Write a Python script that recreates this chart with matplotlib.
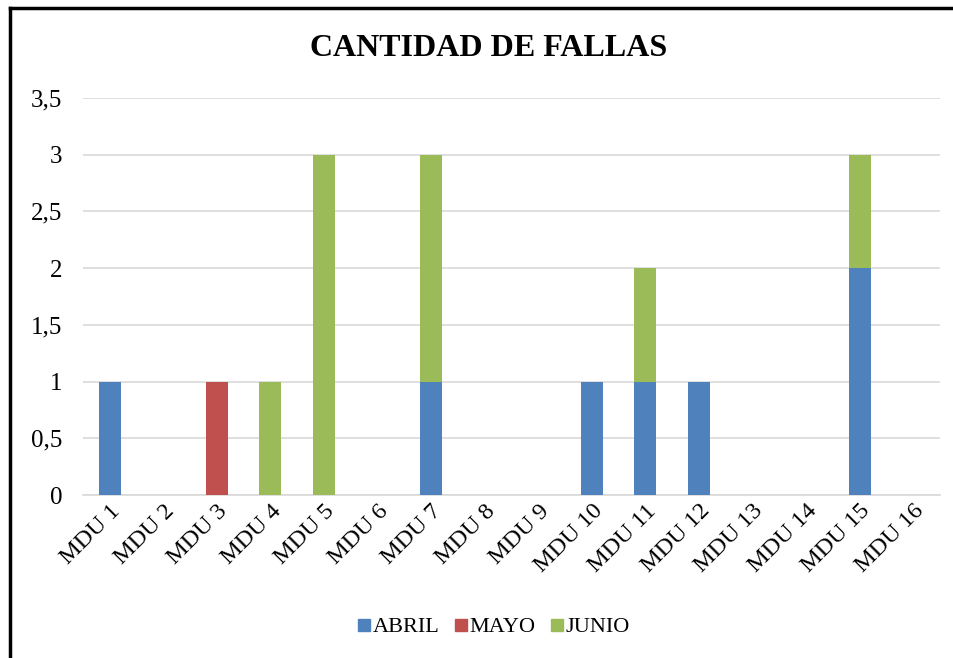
import matplotlib
matplotlib.use("Agg")
import matplotlib.pyplot as plt
from matplotlib.lines import Line2D
import numpy as np

categories = [f"MDU {i}" for i in range(1, 17)]
abril = [1, 0, 0, 0, 0, 0, 1, 0, 0, 1, 1, 1, 0, 0, 2, 0]
mayo  = [0, 0, 1, 0, 0, 0, 0, 0, 0, 0, 0, 0, 0, 0, 0, 0]
junio = [0, 0, 0, 1, 3, 0, 2, 0, 0, 0, 1, 0, 0, 0, 1, 0]
yticks = [0, 0.5, 1, 1.5, 2, 2.5, 3, 3.5]
ytick_labels = ["0", "0,5", "1", "1,5", "2", "2,5", "3", "3,5"]

colors = {"ABRIL": "#4F81BD", "MAYO": "#C0504D", "JUNIO": "#9BBB59"}

plt.rcParams['font.family'] = ['Liberation Serif', 'DejaVu Serif']

W, H = 954, 658
fig = plt.figure(figsize=(W / 100, H / 100), dpi=100)
ax = fig.add_axes([83 / W, 1 - 495 / H, (940 - 83) / W, (495 - 98) / H])

x = np.arange(len(categories))
a = np.array(abril); m = np.array(mayo); j = np.array(junio)
bw = 0.41
ax.bar(x, a, bw, color=colors["ABRIL"], label="ABRIL", zorder=3)
ax.bar(x, m, bw, bottom=a, color=colors["MAYO"], label="MAYO", zorder=3)
ax.bar(x, j, bw, bottom=a + m, color=colors["JUNIO"], label="JUNIO", zorder=3)

ax.set_xlim(-0.5, len(categories) - 0.5)
ax.set_ylim(0, 3.5)
ax.set_yticks(yticks)
ax.set_yticklabels(ytick_labels, fontsize=18)
ax.yaxis.grid(True, color="#D9D9D9", linewidth=1.2, zorder=0)
ax.set_xticks(x)
ax.set_xticklabels(categories, rotation=45, ha="right", rotation_mode="anchor", fontsize=17.5)
ax.tick_params(axis="both", length=0)
ax.tick_params(axis="y", pad=15)
ax.tick_params(axis="x", pad=4)
for s in ["top", "right", "left"]:
    ax.spines[s].set_visible(False)
ax.spines["bottom"].set_color("#D9D9D9")
ax.spines["bottom"].set_linewidth(1.2)

fig.text(489 / W, 1 - 48 / H, "CANTIDAD DE FALLAS", ha="center", va="center",
         fontsize=23, fontweight="bold")

handles = [Line2D([], [], marker="s", linestyle="none", markersize=9,
                  color=colors[k]) for k in ["ABRIL", "MAYO", "JUNIO"]]
fig.legend(handles, ["ABRIL", "MAYO", "JUNIO"], loc="center",
           bbox_to_anchor=(493 / W, 1 - 627 / H), ncol=3, frameon=False,
           fontsize=16, handletextpad=0.05, columnspacing=0.6, handlelength=0.7)

# border lines (top and left)
fig.add_artist(Line2D([10.5 / W, 10.5 / W], [0, 1 - 8 / H], color="black", linewidth=2.5,
                      transform=fig.transFigure))
fig.add_artist(Line2D([10.5 / W, 1], [1 - 8 / H, 1 - 8 / H], color="black", linewidth=2.5,
                      transform=fig.transFigure))

fig.savefig("out.png", dpi=100)
